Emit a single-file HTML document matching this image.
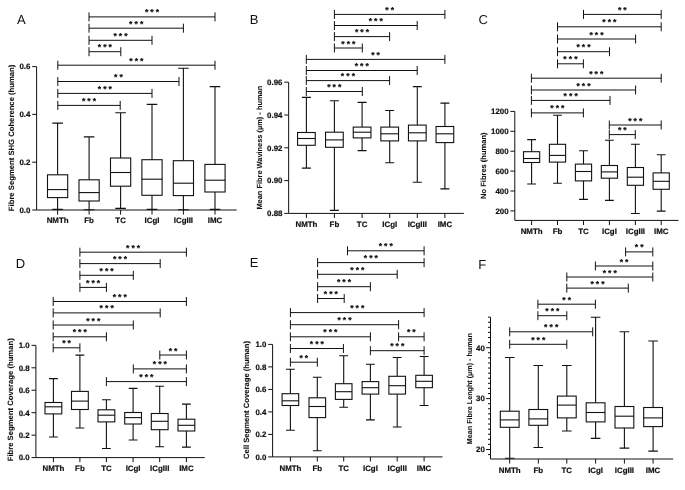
<!DOCTYPE html>
<html><head><meta charset="utf-8"><title>Figure</title>
<style>
html,body{margin:0;padding:0;background:#fff;}
body{width:685px;height:490px;overflow:hidden;font-family:"Liberation Sans",sans-serif;}
svg{display:block;filter:blur(0.3px);}
svg text{font-family:"Liberation Sans",sans-serif;fill:#111;text-rendering:geometricPrecision;stroke:#111;stroke-width:0.2px;}
.t{font-size:7.9px;font-weight:bold;}
.c{font-size:7.9px;font-weight:bold;}
.yt{font-size:7.7px;font-weight:bold;stroke-width:0.08px;}
.pl{font-size:13px;stroke:none;}
.st{font-size:8.6px;font-weight:bold;text-anchor:middle;}
.ax{stroke:#111;stroke-width:1;fill:none;}
.bx{stroke:#111;stroke-width:1.1;fill:#fff;}
.ln{stroke:#111;stroke-width:1.1;fill:none;}
.br{stroke:#111;stroke-width:1;fill:none;}
</style></head>
<body>
<svg width="685" height="490" viewBox="0 0 685 490">
<rect x="0" y="0" width="685" height="490" fill="#ffffff"/>
<g>
<text class="pl" x="17" y="23.9">A</text>
<path class="ax" d="M36.6 66.6V210M36.6 210H236.7M32.2 66.6h4.4M32.2 114.4h4.4M32.2 162.2h4.4M32.2 210h4.4M57.6 210v4.6M89.1 210v4.6M120.6 210v4.6M152 210v4.6M183.4 210v4.6M215 210v4.6"/>
<text class="t" text-anchor="end" x="30.4" y="69.4">0.6</text>
<text class="t" text-anchor="end" x="30.4" y="117.2">0.4</text>
<text class="t" text-anchor="end" x="30.4" y="165">0.2</text>
<text class="t" text-anchor="end" x="30.4" y="212.8">0.0</text>
<text class="yt" style="font-size:7.69px" text-anchor="middle" transform="translate(14.2 137.9) rotate(-90)">Fibre Segment SHG Coherence (human)</text>
<path class="ln" d="M57.6 123.1V174.8M57.6 197.6V209.4M52.3 123.1h10.6M52.3 209.4h10.6M89.1 136.9V179.8M89.1 201V209.7M83.8 136.9h10.6M83.8 209.7h10.6M120.6 112.7V158M120.6 186.2V208.4M115.3 112.7h10.6M115.3 208.4h10.6M152 104.4V159.7M152 195.3V209.4M146.7 104.4h10.6M146.7 209.4h10.6M183.4 68.2V160.7M183.4 195.6V209.7M178.1 68.2h10.6M178.1 209.7h10.6M215 86.6V164.4M215 192V209.4M209.7 86.6h10.6M209.7 209.4h10.6"/>
<rect class="bx" x="47.5" y="174.8" width="20.2" height="22.8"/><path class="ln" d="M47.5 189.6h20.2"/>
<text class="c" text-anchor="middle" x="57.6" y="223">NMTh</text>
<rect class="bx" x="79" y="179.8" width="20.2" height="21.2"/><path class="ln" d="M79 192.6h20.2"/>
<text class="c" text-anchor="middle" x="89.1" y="223">Fb</text>
<rect class="bx" x="110.5" y="158" width="20.2" height="28.2"/><path class="ln" d="M110.5 172.5h20.2"/>
<text class="c" text-anchor="middle" x="120.6" y="223">TC</text>
<rect class="bx" x="141.9" y="159.7" width="20.2" height="35.6"/><path class="ln" d="M141.9 179.2h20.2"/>
<text class="c" text-anchor="middle" x="152" y="223">ICgI</text>
<rect class="bx" x="173.3" y="160.7" width="20.2" height="34.9"/><path class="ln" d="M173.3 183.2h20.2"/>
<text class="c" text-anchor="middle" x="183.4" y="223">ICgIII</text>
<rect class="bx" x="204.9" y="164.4" width="20.2" height="27.6"/><path class="ln" d="M204.9 180.2h20.2"/>
<text class="c" text-anchor="middle" x="215" y="223">IMC</text>
<path class="br" d="M89 16.9H215M89 12.4v9M215 12.4v9M89 28.2H183.4M89 23.7v9M183.4 23.7v9M89 40.3H152M89 35.8v9M152 35.8v9M89 51.7H120.8M89 47.2v9M120.8 47.2v9M57.8 65.2H215M57.8 60.7v9M215 60.7v9M57.8 81.5H179M57.8 77v9M179 77v9M57.8 93.4H152M57.8 88.9v9M152 88.9v9M57.8 105.4H120.2M57.8 100.9v9M120.2 100.9v9"/>
<text class="st" x="146.6 152 157.4" y="15.4">***</text>
<text class="st" x="130.8 136.2 141.6" y="26.7">***</text>
<text class="st" x="115.1 120.5 125.9" y="38.8">***</text>
<text class="st" x="99.5 104.9 110.3" y="50.2">***</text>
<text class="st" x="131 136.4 141.8" y="63.7">***</text>
<text class="st" x="115.7 121.1" y="80">**</text>
<text class="st" x="99.5 104.9 110.3" y="91.9">***</text>
<text class="st" x="83.6 89 94.4" y="103.9">***</text>
</g>
<g>
<text class="pl" x="249.8" y="23.9">B</text>
<path class="ax" d="M288.65 82.2V213.4M288.65 213.4H463.9M284.25 82.2h4.4M284.25 115h4.4M284.25 147.8h4.4M284.25 180.6h4.4M284.25 213.4h4.4M306.4 213.4v4.6M334.4 213.4v4.6M362.1 213.4v4.6M389.7 213.4v4.6M417.3 213.4v4.6M444.9 213.4v4.6"/>
<text class="t" text-anchor="end" x="282.45" y="85">0.96</text>
<text class="t" text-anchor="end" x="282.45" y="117.8">0.94</text>
<text class="t" text-anchor="end" x="282.45" y="150.6">0.92</text>
<text class="t" text-anchor="end" x="282.45" y="183.4">0.90</text>
<text class="t" text-anchor="end" x="282.45" y="216.2">0.88</text>
<text class="yt" style="font-size:7.42px" text-anchor="middle" transform="translate(261.6 147.7) rotate(-90)">Mean Fibre Waviness (µm) - human</text>
<path class="ln" d="M306.4 97.4V132.5M306.4 145.3V168.1M301.9 97.4h9M301.9 168.1h9M334.4 100.8V132.2M334.4 147.3V210.4M329.9 100.8h9M329.9 210.4h9M362.1 102.4V127.1M362.1 137.9V150.6M357.6 102.4h9M357.6 150.6h9M389.7 110.5V127.1M389.7 140.9V162.7M385.2 110.5h9M385.2 162.7h9M417.3 86.6V125.1M417.3 140.9V182.2M412.8 86.6h9M412.8 182.2h9M444.9 103.1V126.5M444.9 142.6V188.9M440.4 103.1h9M440.4 188.9h9"/>
<rect class="bx" x="297.55" y="132.5" width="17.7" height="12.8"/><path class="ln" d="M297.55 138.5h17.7"/>
<text class="c" text-anchor="middle" x="306.4" y="227">NMTh</text>
<rect class="bx" x="325.55" y="132.2" width="17.7" height="15.1"/><path class="ln" d="M325.55 139.9h17.7"/>
<text class="c" text-anchor="middle" x="334.4" y="227">Fb</text>
<rect class="bx" x="353.25" y="127.1" width="17.7" height="10.8"/><path class="ln" d="M353.25 132.2h17.7"/>
<text class="c" text-anchor="middle" x="362.1" y="227">TC</text>
<rect class="bx" x="380.85" y="127.1" width="17.7" height="13.8"/><path class="ln" d="M380.85 133.8h17.7"/>
<text class="c" text-anchor="middle" x="389.7" y="227">ICgI</text>
<rect class="bx" x="408.45" y="125.1" width="17.7" height="15.8"/><path class="ln" d="M408.45 132.8h17.7"/>
<text class="c" text-anchor="middle" x="417.3" y="227">ICgIII</text>
<rect class="bx" x="436.05" y="126.5" width="17.7" height="16.1"/><path class="ln" d="M436.05 133.8h17.7"/>
<text class="c" text-anchor="middle" x="444.9" y="227">IMC</text>
<path class="br" d="M334.4 14.4H444.9M334.4 9.9v9M444.9 9.9v9M334.4 25.5H417.2M334.4 21v9M417.2 21v9M334.4 36.6H389.6M334.4 32.1v9M389.6 32.1v9M334.4 48H362.3M334.4 43.5v9M362.3 43.5v9M306.3 59.4H444.9M306.3 54.9v9M444.9 54.9v9M306.3 70.5H417.2M306.3 66v9M417.2 66v9M306.3 80.6H389.6M306.3 76.1v9M389.6 76.1v9M306.3 91.5H362.3M306.3 87v9M362.3 87v9"/>
<text class="st" x="386.95 392.35" y="12.9">**</text>
<text class="st" x="370.4 375.8 381.2" y="24">***</text>
<text class="st" x="356.6 362 367.4" y="35.1">***</text>
<text class="st" x="342.95 348.35 353.75" y="46.5">***</text>
<text class="st" x="372.9 378.3" y="57.9">**</text>
<text class="st" x="356.35 361.75 367.15" y="69">***</text>
<text class="st" x="342.55 347.95 353.35" y="79.1">***</text>
<text class="st" x="328.9 334.3 339.7" y="90">***</text>
</g>
<g>
<text class="pl" x="478.4" y="23.9">C</text>
<path class="ax" d="M514.8 111.4V220.4M514.8 220.4H678.5M510.4 111.4h4.4M510.4 131.3h4.4M510.4 151.2h4.4M510.4 171.1h4.4M510.4 191h4.4M510.4 210.9h4.4M531.6 220.4v4.6M557.5 220.4v4.6M583.5 220.4v4.6M609.4 220.4v4.6M635.4 220.4v4.6M661.2 220.4v4.6"/>
<text class="t" text-anchor="end" x="508.6" y="114.2">1200</text>
<text class="t" text-anchor="end" x="508.6" y="134.1">1000</text>
<text class="t" text-anchor="end" x="508.6" y="154">800</text>
<text class="t" text-anchor="end" x="508.6" y="173.9">600</text>
<text class="t" text-anchor="end" x="508.6" y="193.8">400</text>
<text class="t" text-anchor="end" x="508.6" y="213.7">200</text>
<text class="yt" style="font-size:7.52px" text-anchor="middle" transform="translate(485.5 165.7) rotate(-90)">No Fibres (human)</text>
<path class="ln" d="M531.6 139.6V151.7M531.6 162.5V184M527.2 139.6h8.8M527.2 184h8.8M557.5 115.2V144.3M557.5 162.1V183.3M553.1 115.2h8.8M553.1 183.3h8.8M583.5 150.7V164.1M583.5 180.9V199.4M579.1 150.7h8.8M579.1 199.4h8.8M609.4 140.3V165.5M609.4 178.2V200.4M605 140.3h8.8M605 200.4h8.8M635.4 144.3V167.5M635.4 185.3V213.5M631 144.3h8.8M631 213.5h8.8M661.2 154.7V172.9M661.2 189.3V211.1M656.8 154.7h8.8M656.8 211.1h8.8"/>
<rect class="bx" x="523.5" y="151.7" width="16.2" height="10.8"/><path class="ln" d="M523.5 158.5h16.2"/>
<text class="c" text-anchor="middle" x="531.6" y="234">NMTh</text>
<rect class="bx" x="549.4" y="144.3" width="16.2" height="17.8"/><path class="ln" d="M549.4 155.4h16.2"/>
<text class="c" text-anchor="middle" x="557.5" y="234">Fb</text>
<rect class="bx" x="575.4" y="164.1" width="16.2" height="16.8"/><path class="ln" d="M575.4 171.5h16.2"/>
<text class="c" text-anchor="middle" x="583.5" y="234">TC</text>
<rect class="bx" x="601.3" y="165.5" width="16.2" height="12.7"/><path class="ln" d="M601.3 171.9h16.2"/>
<text class="c" text-anchor="middle" x="609.4" y="234">ICgI</text>
<rect class="bx" x="627.3" y="167.5" width="16.2" height="17.8"/><path class="ln" d="M627.3 177.2h16.2"/>
<text class="c" text-anchor="middle" x="635.4" y="234">ICgIII</text>
<rect class="bx" x="653.1" y="172.9" width="16.2" height="16.4"/><path class="ln" d="M653.1 181.3h16.2"/>
<text class="c" text-anchor="middle" x="661.2" y="234">IMC</text>
<path class="br" d="M583.5 14.4H661.2M583.5 9.9v9M661.2 9.9v9M557.5 26.8H661.2M557.5 22.3v9M661.2 22.3v9M557.5 39H635.6M557.5 34.5v9M635.6 34.5v9M557.5 51.7H609.5M557.5 47.2v9M609.5 47.2v9M557.5 63.8H583.4M557.5 59.3v9M583.4 59.3v9M531.4 78.2H661.2M531.4 73.7v9M661.2 73.7v9M531.4 90H635.6M531.4 85.5v9M635.6 85.5v9M531.4 100.4H610M531.4 95.9v9M610 95.9v9M531.4 112.9H583.4M531.4 108.4v9M583.4 108.4v9M609.3 125H661.2M609.3 120.5v9M661.2 120.5v9M609.3 134.6H635.3M609.3 130.1v9M635.3 130.1v9"/>
<text class="st" x="619.65 625.05" y="12.9">**</text>
<text class="st" x="603.95 609.35 614.75" y="25.3">***</text>
<text class="st" x="591.15 596.55 601.95" y="37.5">***</text>
<text class="st" x="578.1 583.5 588.9" y="50.2">***</text>
<text class="st" x="565.05 570.45 575.85" y="62.3">***</text>
<text class="st" x="590.9 596.3 601.7" y="76.7">***</text>
<text class="st" x="578.1 583.5 588.9" y="88.5">***</text>
<text class="st" x="565.3 570.7 576.1" y="98.9">***</text>
<text class="st" x="552 557.4 562.8" y="111.4">***</text>
<text class="st" x="629.85 635.25 640.65" y="123.5">***</text>
<text class="st" x="619.6 625" y="133.1">**</text>
</g>
<g>
<text class="pl" x="15.8" y="268.4">D</text>
<path class="ax" d="M35.9 345.35V457.6M35.9 457.6H204.8M31.5 345.35h4.4M31.5 367.8h4.4M31.5 390.25h4.4M31.5 412.7h4.4M31.5 435.15h4.4M31.5 457.6h4.4M53.4 457.6v4.6M79.9 457.6v4.6M106.4 457.6v4.6M133.1 457.6v4.6M159.7 457.6v4.6M186.4 457.6v4.6"/>
<text class="t" text-anchor="end" x="29.7" y="348.15">1.0</text>
<text class="t" text-anchor="end" x="29.7" y="370.6">0.8</text>
<text class="t" text-anchor="end" x="29.7" y="393.05">0.6</text>
<text class="t" text-anchor="end" x="29.7" y="415.5">0.4</text>
<text class="t" text-anchor="end" x="29.7" y="437.95">0.2</text>
<text class="t" text-anchor="end" x="29.7" y="460.4">0.0</text>
<text class="yt" style="font-size:7.69px" text-anchor="middle" transform="translate(13.3 399.8) rotate(-90)">Fibre Segment Coverage (human)</text>
<path class="ln" d="M53.4 378.6V402.5M53.4 413.9V437M49 378.6h8.8M49 437h8.8M79.9 355.1V391.4M79.9 409.5V428M75.5 355.1h8.8M75.5 428h8.8M106.4 399.8V409.8M106.4 421.9V448.5M102 399.8h8.8M102 448.5h8.8M133.1 388.4V412.5M133.1 424V440M128.7 388.4h8.8M128.7 440h8.8M159.7 386.3V413.5M159.7 429.7V446.8M155.3 386.3h8.8M155.3 446.8h8.8M186.4 404.1V419.2M186.4 431V447.1M182 404.1h8.8M182 447.1h8.8"/>
<rect class="bx" x="45" y="402.5" width="16.8" height="11.4"/><path class="ln" d="M45 406.8h16.8"/>
<text class="c" text-anchor="middle" x="53.4" y="471">NMTh</text>
<rect class="bx" x="71.5" y="391.4" width="16.8" height="18.1"/><path class="ln" d="M71.5 401.1h16.8"/>
<text class="c" text-anchor="middle" x="79.9" y="471">Fb</text>
<rect class="bx" x="98" y="409.8" width="16.8" height="12.1"/><path class="ln" d="M98 415.2h16.8"/>
<text class="c" text-anchor="middle" x="106.4" y="471">TC</text>
<rect class="bx" x="124.7" y="412.5" width="16.8" height="11.5"/><path class="ln" d="M124.7 417.6h16.8"/>
<text class="c" text-anchor="middle" x="133.1" y="471">ICgI</text>
<rect class="bx" x="151.3" y="413.5" width="16.8" height="16.2"/><path class="ln" d="M151.3 421.3h16.8"/>
<text class="c" text-anchor="middle" x="159.7" y="471">ICgIII</text>
<rect class="bx" x="178" y="419.2" width="16.8" height="11.8"/><path class="ln" d="M178 425.3h16.8"/>
<text class="c" text-anchor="middle" x="186.4" y="471">IMC</text>
<path class="br" d="M79.9 252.2H186.4M79.9 247.7v9M186.4 247.7v9M79.9 263.6H160.2M79.9 259.1v9M160.2 259.1v9M79.9 275.3H133.3M79.9 270.8v9M133.3 270.8v9M79.9 287.4H106.4M79.9 282.9v9M106.4 282.9v9M53.2 301.5H186.4M53.2 297v9M186.4 297v9M53.2 312.9H160.2M53.2 308.4v9M160.2 308.4v9M53.2 325H133.3M53.2 320.5v9M133.3 320.5v9M53.2 336.8H106.4M53.2 332.3v9M106.4 332.3v9M53.2 347.8H79.9M53.2 343.3v9M79.9 343.3v9M159.8 355H186.4M159.8 350.5v9M186.4 350.5v9M133.3 368.9H186.4M133.3 364.4v9M186.4 364.4v9M106.4 381.6H186.4M106.4 377.1v9M186.4 377.1v9"/>
<text class="st" x="127.75 133.15 138.55" y="250.7">***</text>
<text class="st" x="114.65 120.05 125.45" y="262.1">***</text>
<text class="st" x="101.2 106.6 112" y="273.8">***</text>
<text class="st" x="87.75 93.15 98.55" y="285.9">***</text>
<text class="st" x="114.4 119.8 125.2" y="300">***</text>
<text class="st" x="101.3 106.7 112.1" y="311.4">***</text>
<text class="st" x="87.85 93.25 98.65" y="323.5">***</text>
<text class="st" x="74.4 79.8 85.2" y="335.3">***</text>
<text class="st" x="63.85 69.25" y="346.3">**</text>
<text class="st" x="170.4 175.8" y="353.5">**</text>
<text class="st" x="154.45 159.85 165.25" y="367.4">***</text>
<text class="st" x="141 146.4 151.8" y="380.1">***</text>
</g>
<g>
<text class="pl" x="249.8" y="267">E</text>
<path class="ax" d="M272.6 344.4V456.9M272.6 456.9H442.5M268.2 344.4h4.4M268.2 366.9h4.4M268.2 389.4h4.4M268.2 411.9h4.4M268.2 434.4h4.4M268.2 456.9h4.4M290.4 456.9v4.6M317.3 456.9v4.6M343.7 456.9v4.6M370.4 456.9v4.6M397.2 456.9v4.6M424.1 456.9v4.6"/>
<text class="t" text-anchor="end" x="266.4" y="347.2">1.0</text>
<text class="t" text-anchor="end" x="266.4" y="369.7">0.8</text>
<text class="t" text-anchor="end" x="266.4" y="392.2">0.6</text>
<text class="t" text-anchor="end" x="266.4" y="414.7">0.4</text>
<text class="t" text-anchor="end" x="266.4" y="437.2">0.2</text>
<text class="t" text-anchor="end" x="266.4" y="459.7">0.0</text>
<text class="yt" style="font-size:7.68px" text-anchor="middle" transform="translate(249.2 400) rotate(-90)">Cell Segment Coverage (human)</text>
<path class="ln" d="M290.4 369.2V393.7M290.4 405.5V430.3M286 369.2h8.8M286 430.3h8.8M317.3 377.3V397.8M317.3 417.6V450.8M312.9 377.3h8.8M312.9 450.8h8.8M343.7 355.8V383.7M343.7 399.4V407.2M339.3 355.8h8.8M339.3 407.2h8.8M370.4 364.2V381.6M370.4 394.1V419.9M366 364.2h8.8M366 419.9h8.8M397.2 357.5V376.3M397.2 394.1V427M392.8 357.5h8.8M392.8 427h8.8M424.1 356.5V375.3M424.1 387.7V405.5M419.7 356.5h8.8M419.7 405.5h8.8"/>
<rect class="bx" x="282.1" y="393.7" width="16.6" height="11.8"/><path class="ln" d="M282.1 400.8h16.6"/>
<text class="c" text-anchor="middle" x="290.4" y="471">NMTh</text>
<rect class="bx" x="309" y="397.8" width="16.6" height="19.8"/><path class="ln" d="M309 406.5h16.6"/>
<text class="c" text-anchor="middle" x="317.3" y="471">Fb</text>
<rect class="bx" x="335.4" y="383.7" width="16.6" height="15.7"/><path class="ln" d="M335.4 391.7h16.6"/>
<text class="c" text-anchor="middle" x="343.7" y="471">TC</text>
<rect class="bx" x="362.1" y="381.6" width="16.6" height="12.5"/><path class="ln" d="M362.1 387.7h16.6"/>
<text class="c" text-anchor="middle" x="370.4" y="471">ICgI</text>
<rect class="bx" x="388.9" y="376.3" width="16.6" height="17.8"/><path class="ln" d="M388.9 385.7h16.6"/>
<text class="c" text-anchor="middle" x="397.2" y="471">ICgIII</text>
<rect class="bx" x="415.8" y="375.3" width="16.6" height="12.4"/><path class="ln" d="M415.8 381.3h16.6"/>
<text class="c" text-anchor="middle" x="424.1" y="471">IMC</text>
<path class="br" d="M347.5 250.8H424.1M347.5 246.3v9M424.1 246.3v9M317.6 262.6H424.1M317.6 258.1v9M424.1 258.1v9M317.6 274.3H397.2M317.6 269.8v9M397.2 269.8v9M317.6 286.7H370.4M317.6 282.2v9M370.4 282.2v9M317.6 298.5H344.2M317.6 294v9M344.2 294v9M290.4 312.6H424.1M290.4 308.1v9M424.1 308.1v9M290.4 324.7H398.6M290.4 320.2v9M398.6 320.2v9M290.4 336.8H370.4M290.4 332.3v9M370.4 332.3v9M398.6 336.8H424.1M398.6 332.3v9M424.1 332.3v9M290.4 348.5H343.4M290.4 344v9M343.4 344v9M370.4 350.7H424.1M370.4 346.2v9M424.1 346.2v9M290.4 362.2H317.3M290.4 357.7v9M317.3 357.7v9"/>
<text class="st" x="380.4 385.8 391.2" y="249.3">***</text>
<text class="st" x="365.45 370.85 376.25" y="261.1">***</text>
<text class="st" x="352 357.4 362.8" y="272.8">***</text>
<text class="st" x="338.6 344 349.4" y="285.2">***</text>
<text class="st" x="325.5 330.9 336.3" y="297">***</text>
<text class="st" x="351.85 357.25 362.65" y="311.1">***</text>
<text class="st" x="339.1 344.5 349.9" y="323.2">***</text>
<text class="st" x="325 330.4 335.8" y="335.3">***</text>
<text class="st" x="408.65 414.05" y="335.3">**</text>
<text class="st" x="311.5 316.9 322.3" y="347">***</text>
<text class="st" x="391.85 397.25 402.65" y="349.2">***</text>
<text class="st" x="301.15 306.55" y="360.7">**</text>
</g>
<g>
<text class="pl" x="478.2" y="268.8">F</text>
<path class="ax" d="M490.5 317.2V459.1M490.5 459H673.2M486.1 347.7h4.4M486.1 398.6h4.4M486.1 449.5h4.4M488 317.16h2.5M488 322.25h2.5M488 327.34h2.5M488 332.43h2.5M488 337.52h2.5M488 342.61h2.5M488 352.79h2.5M488 357.88h2.5M488 362.97h2.5M488 368.06h2.5M488 373.15h2.5M488 378.24h2.5M488 383.33h2.5M488 388.42h2.5M488 393.51h2.5M488 403.69h2.5M488 408.78h2.5M488 413.87h2.5M488 418.96h2.5M488 424.05h2.5M488 429.14h2.5M488 434.23h2.5M488 439.32h2.5M488 444.41h2.5M488 454.59h2.5M509.7 459v4.6M538.3 459v4.6M566.8 459v4.6M595.6 459v4.6M624.4 459v4.6M653.1 459v4.6"/>
<text class="t" text-anchor="end" x="484.9" y="350.5">40</text>
<text class="t" text-anchor="end" x="484.9" y="401.4">30</text>
<text class="t" text-anchor="end" x="484.9" y="452.3">20</text>
<text class="yt" style="font-size:7.2px" text-anchor="middle" transform="translate(471.8 388.6) rotate(-90)">Mean Fibre Lenght (µm) - human</text>
<path class="ln" d="M509.7 357.5V411.2M509.7 427.3V458.2M504.9 357.5h9.6M504.9 458.2h9.6M538.3 365.5V409.5M538.3 425.3V447.5M533.5 365.5h9.6M533.5 447.5h9.6M566.8 365.5V396.1M566.8 417.9V431M562 365.5h9.6M562 431h9.6M595.6 317.3V402.8M595.6 421.9V438.4M590.8 317.3h9.6M590.8 438.4h9.6M624.4 331.8V406.5M624.4 428V448.1M619.6 331.8h9.6M619.6 448.1h9.6M653.1 341V407.5M653.1 426.6V451.1M648.3 341h9.6M648.3 451.1h9.6"/>
<rect class="bx" x="500.3" y="411.2" width="18.8" height="16.1"/><path class="ln" d="M500.3 419.9h18.8"/>
<text class="c" text-anchor="middle" x="509.7" y="473">NMTh</text>
<rect class="bx" x="528.9" y="409.5" width="18.8" height="15.8"/><path class="ln" d="M528.9 418.9h18.8"/>
<text class="c" text-anchor="middle" x="538.3" y="473">Fb</text>
<rect class="bx" x="557.4" y="396.1" width="18.8" height="21.8"/><path class="ln" d="M557.4 405.1h18.8"/>
<text class="c" text-anchor="middle" x="566.8" y="473">TC</text>
<rect class="bx" x="586.2" y="402.8" width="18.8" height="19.1"/><path class="ln" d="M586.2 412.5h18.8"/>
<text class="c" text-anchor="middle" x="595.6" y="473">ICgI</text>
<rect class="bx" x="615" y="406.5" width="18.8" height="21.5"/><path class="ln" d="M615 416.2h18.8"/>
<text class="c" text-anchor="middle" x="624.4" y="473">ICgIII</text>
<rect class="bx" x="643.7" y="407.5" width="18.8" height="19.1"/><path class="ln" d="M643.7 417.9h18.8"/>
<text class="c" text-anchor="middle" x="653.1" y="473">IMC</text>
<path class="br" d="M625.6 251.9H652.8M625.6 247.4v9M652.8 247.4v9M595.4 266H652.8M595.4 261.5v9M652.8 261.5v9M566.8 277H652.8M566.8 272.5v9M652.8 272.5v9M566.8 288.1H628.3M566.8 283.6v9M628.3 283.6v9M537.9 304.2H595.4M537.9 299.7v9M595.4 299.7v9M537.9 315.7H566.8M537.9 311.2v9M566.8 311.2v9M509.7 331.8H592.7M509.7 327.3v9M592.7 327.3v9M509.7 344.3H566.8M509.7 339.8v9M566.8 339.8v9"/>
<text class="st" x="636.5 641.9" y="250.4">**</text>
<text class="st" x="621.4 626.8" y="264.5">**</text>
<text class="st" x="604.4 609.8 615.2" y="275.5">***</text>
<text class="st" x="592.15 597.55 602.95" y="286.6">***</text>
<text class="st" x="563.95 569.35" y="302.7">**</text>
<text class="st" x="546.95 552.35 557.75" y="314.2">***</text>
<text class="st" x="545.8 551.2 556.6" y="330.3">***</text>
<text class="st" x="532.85 538.25 543.65" y="342.8">***</text>
</g>
</svg>
</body></html>
